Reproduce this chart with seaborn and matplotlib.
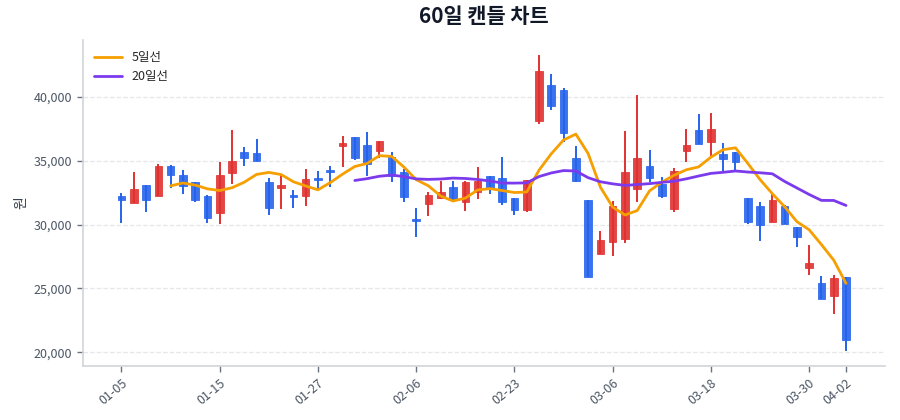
import numpy as np
import pandas as pd
import matplotlib
matplotlib.use('Agg')
import matplotlib.pyplot as plt
import seaborn as sns
from matplotlib.ticker import FuncFormatter

# 거래일 (60일)
dates = ['01-05', '01-06', '01-07', '01-08', '01-09', '01-12', '01-13', '01-14', '01-15', '01-16',
         '01-19', '01-20', '01-21', '01-22', '01-23', '01-26', '01-27', '01-28', '01-29', '01-30',
         '02-02', '02-03', '02-04', '02-05', '02-06', '02-09', '02-10', '02-11', '02-12', '02-13',
         '02-19', '02-20', '02-23', '02-24', '02-25', '02-26', '02-27', '03-03', '03-04', '03-05',
         '03-06', '03-09', '03-10', '03-11', '03-12', '03-13', '03-16', '03-17', '03-18', '03-19',
         '03-20', '03-23', '03-24', '03-25', '03-26', '03-27', '03-30', '03-31', '04-01', '04-02']

opens = [32240, 31690, 33120, 32210, 34610, 33880, 33330, 32210, 30900, 34040,
         35650, 35580, 33330, 32890, 32310, 32210, 33670, 34270, 36180, 36840,
         36260, 35790, 35270, 34090, 30430, 31580, 32060, 32970, 31790, 32550,
         33780, 33620, 32060, 31140, 38090, 40940, 40550, 35190, 31950, 27690,
         28600, 28860, 32780, 34610, 33180, 31220, 35790, 37360, 36450, 35530,
         35660, 32080, 31430, 30220, 31470, 29780, 26570, 25390, 24420, 25860]
highs = [32470, 34140, 33120, 34770, 34690, 34300, 33330, 32310, 34930, 37410,
         36050, 36710, 33620, 33880, 32710, 34350, 34220, 34610, 36960, 36840,
         37280, 36530, 35690, 34350, 31270, 32530, 33440, 33370, 33440, 34530,
         33830, 35320, 32060, 33510, 43290, 41750, 40680, 36130, 31950, 29470,
         31820, 37310, 40160, 35840, 33750, 34430, 37440, 38670, 38750, 36370,
         35660, 32080, 31790, 32390, 31500, 29780, 28390, 25980, 26040, 25860]
lows = [30120, 31690, 30960, 32210, 32840, 32390, 31740, 30140, 30040, 33180,
        34590, 35000, 30750, 31220, 31290, 31470, 32780, 32970, 34490, 35080,
        33780, 35220, 33310, 31740, 29000, 30690, 32000, 31820, 31080, 32000,
        32390, 31530, 30750, 30960, 37880, 39000, 36450, 33310, 25910, 27690,
        27510, 28550, 31740, 33310, 32060, 31000, 34880, 36310, 35400, 34170,
        34220, 30040, 28730, 30220, 30040, 28210, 26060, 24160, 22980, 20100]
closes = [31920, 32780, 31950, 34570, 33910, 33040, 31950, 30490, 33910, 35000,
          35210, 35000, 31270, 33070, 32180, 33570, 33490, 34090, 36370, 35190,
          34750, 36530, 33830, 32180, 30270, 32310, 32530, 31920, 33310, 33440,
          32840, 31790, 31140, 33510, 41980, 39270, 37180, 33440, 25910, 28810,
          31470, 34090, 35190, 33620, 32210, 34170, 36240, 36310, 37440, 35140,
          34880, 30170, 29960, 31920, 30040, 29040, 26980, 24160, 25830, 20970]

RED = '#e03131'
BLUE = '#2563eb'
ORANGE = '#f59f00'
PURPLE = '#7c3aed'

df = pd.DataFrame({'date': dates, 'open': opens, 'high': highs, 'low': lows, 'close': closes})
df['idx'] = np.arange(len(df))
df['ma5'] = df['close'].rolling(5).mean()
df['ma20'] = df['close'].rolling(20).mean()

sns.set_theme(style='white')
plt.rcParams['font.family'] = ['Noto Sans CJK KR', 'DejaVu Sans']
plt.rcParams['axes.unicode_minus'] = False

fig = plt.figure(figsize=(9, 4.2), dpi=100)
ax = fig.add_axes([0.092, 0.129, 0.891, 0.776])

# 캔들
colors = np.where(df['close'] >= df['open'], RED, BLUE)
ax.vlines(df['idx'], df['low'], df['high'], colors=colors, linewidth=1.4, zorder=2)
body_h = (df['close'] - df['open']).abs().clip(lower=80)
body_b = df[['open', 'close']].min(axis=1)
ax.bar(df['idx'], body_h, bottom=body_b, width=0.62, color=colors,
       edgecolor=colors, linewidth=0.6, alpha=0.9, zorder=3)

# 이동평균선
sns.lineplot(data=df, x='idx', y='ma5', ax=ax, color=ORANGE, linewidth=2, label='5일선', zorder=4)
sns.lineplot(data=df, x='idx', y='ma20', ax=ax, color=PURPLE, linewidth=2, label='20일선', zorder=4)

tick_idx = list(range(0, len(dates), 8)) + [len(dates) - 1]
ax.set_xticks(tick_idx)
ax.set_xticklabels([dates[i] for i in tick_idx], rotation=40, ha='right', rotation_mode='anchor')
ax.set_xlim(-3.15, len(dates) - 1 + 3.15)
ax.set_yticks([20000, 25000, 30000, 35000, 40000])
ax.yaxis.set_major_formatter(FuncFormatter(lambda v, p: f'{int(v):,}'))

ax.yaxis.grid(True, linestyle='--', color='#e5e7eb', linewidth=0.9)
ax.xaxis.grid(False)
for s in ['top', 'right']:
    ax.spines[s].set_visible(False)
for s in ['left', 'bottom']:
    ax.spines[s].set_color('#d1d5db')
    ax.spines[s].set_linewidth(1.2)
ax.tick_params(axis='both', colors='#4b5563', labelsize=9, length=4, width=1, bottom=True, left=True)
ax.tick_params(axis='both', color='#6b7280')

ax.set_xlabel('')
ax.set_ylabel('원', fontsize=10, color='#374151')
ax.set_title('60일 캔들 차트', fontsize=15, fontweight='bold', color='#111827', pad=12)
ax.legend(loc='upper left', frameon=False, fontsize=9, handlelength=2.2)

fig.savefig('out.png', dpi=100)
